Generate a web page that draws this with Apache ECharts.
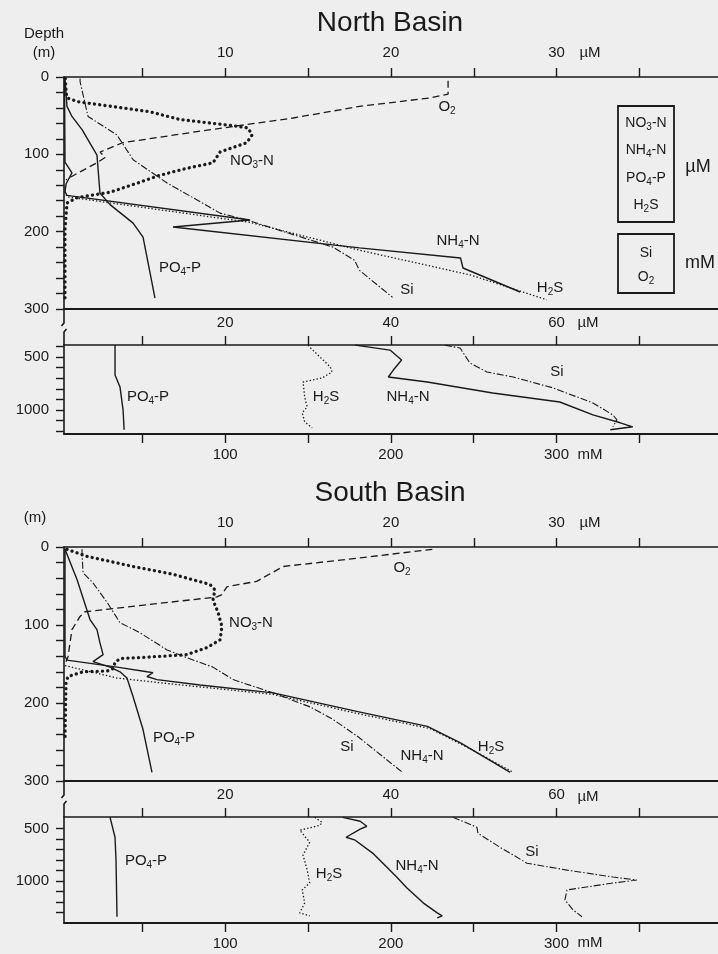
<!DOCTYPE html>
<html>
<head>
<meta charset="utf-8">
<script src="https://cdn.jsdelivr.net/npm/echarts@6/dist/echarts.min.js"></script>
<style>
  html, body { margin: 0; padding: 0; background: #eeeeee; }
  #chart { width: 718px; height: 954px; }
</style>
</head>
<body>
<div id="chart"></div>
<script>
// Vertical profiles: [concentration, depth (m)]
// North Basin, 0-300 m (µM scale of the top axis)
const northO2  = [[23.45,5],[23.45,22],[22.4,27],[18.1,38],[14.1,53],[8.5,70],[3.8,85],[2.45,97],[2.75,104],[2.26,111],[1.12,124],[0.39,133]];
const northNO3 = [[0.35,2],[0.4,20],[0.45,27],[1.12,32],[5.46,45],[7.27,55],[10.47,63],[11.38,66],[11.62,75],[11.3,85],[9.69,97],[9.26,111],[7.69,118],[6.07,127],[4.86,136],[3.05,149],[1.06,156],[0.45,163],[0.33,198],[0.33,288]];
const northNH4 = [[0.3,2],[0.33,110],[0.75,124],[0.4,138],[0.33,148],[0.45,153],[11.5,185],[6.85,194],[18.1,221],[24.2,234],[24.35,247],[27.8,278]];
const northPO4 = [[0.33,3],[0.45,38],[0.75,51],[1.36,68],[2.26,101],[2.44,150],[3.05,165],[4.44,189],[5.04,207],[5.46,253],[5.76,286]];
const northH2S = [[0.33,148],[0.45,155],[11.5,188],[18.1,224],[24.8,256],[29.4,288]];
const northSi  = [[1.24,2],[1.24,6],[1.72,51],[3.47,75],[4.44,107],[6.49,137],[9.69,176],[11.32,185],[16.5,220],[17.8,237],[18.1,250],[20.1,285]];

// North Basin, deep layer (µM, Si in mM)
const northDeepPO4 = [[6.7,387],[6.7,670],[7.3,783],[7.67,1000],[7.8,1188]];
const northDeepH2S = [[30.0,387],[30.2,406],[32.7,594],[32.9,641],[31.7,698],[29.4,736],[29.6,877],[29.9,972],[29.3,1028],[29.6,1113],[30.5,1170]];
const northDeepNH4 = [[35.7,387],[39.9,434],[41.3,528],[40.3,623],[39.7,689],[44.4,736],[52.3,840],[60.4,925],[64.4,1047],[67.7,1122],[69.2,1160],[66.5,1188]];
const northDeepSi  = [[232.7,387],[241.8,415],[247.8,557],[258,641],[273.8,689],[297.9,792],[322,934],[334,1047],[336.5,1094],[334,1160]];

// South Basin, 0-300 m
const southO2  = [[22.5,3],[18.1,14],[13.5,25],[11.9,44],[10.1,51],[9.8,61],[9.5,64],[1.54,83],[1.24,89],[0.75,106],[0.51,141],[0.39,147]];
const southNO3 = [[0.45,3],[1.66,12],[4.44,25],[6.85,35],[9.08,48],[9.38,55],[9.26,68],[9.57,84],[9.8,102],[9.69,119],[8.9,129],[7.69,138],[5.46,141],[3.65,143],[3.35,148],[3.23,156],[2.87,159],[1.42,160],[0.51,166],[0.39,174],[0.33,247]];
const southNH4 = [[0.33,2],[0.33,140],[0.45,145],[3.47,154],[5.28,160],[5.64,161],[5.28,166],[5.88,170],[8.48,177],[12.89,187],[18.0,211],[22.2,230],[24.2,251],[27.2,289]];
const southPO4 = [[0.33,3],[1.06,42],[1.84,93],[2.26,106],[2.44,123],[2.63,138],[2.02,147],[3.05,154],[3.65,160],[4.07,168],[4.44,192],[5.04,234],[5.58,289]];
const southH2S = [[0.33,152],[3.47,168],[6.49,175],[12.89,189],[18.1,214],[22.4,233],[24.8,259],[27.4,289]];
const southSi  = [[1.36,3],[1.36,10],[1.42,33],[2.02,46],[2.87,71],[3.65,97],[4.86,110],[6.49,132],[7.69,142],[9.26,154],[10.47,170],[12.89,187],[15.12,205],[16.5,221],[18.0,243],[20.7,289]];

// South Basin, deep layer
const southDeepPO4 = [[6.1,393],[6.7,583],[6.82,800],[6.94,1341]];
const southDeepH2S = [[30.8,393],[31.7,440],[31.45,469],[29.0,516],[30.2,630],[29.4,753],[29.9,895],[30.2,1018],[29.3,1085],[29.6,1208],[29.0,1304],[30.2,1332]];
const southDeepNH4 = [[34.2,393],[36.3,431],[37.1,478],[36.3,505],[34.6,583],[35.7,611],[37.8,734],[39.5,867],[40.7,961],[41.95,1066],[43.9,1208],[45.6,1304],[46.2,1332],[45.6,1351]];
const southDeepSi  = [[237.5,393],[252,488],[252.6,545],[265.9,678],[282.2,830],[306.3,896],[334.1,962],[348.6,991],[334.1,1019],[306.3,1085],[305.1,1180],[310,1275],[315.4,1341]];

// Axis ticks and labels
const shallowTicksUM  = [5,10,15,20,25,30,35];
const shallowLabelsUM = [10,20,30];
const deepTicksUM     = [10,20,30,40,50,60,70];
const deepLabelsUM    = [20,40,60];
const deepTicksMM     = [50,100,150,200,250,300,350];
const deepLabelsMM    = [100,200,300];
const shallowDepthLabels = [0,100,200,300];
const northDeepDepthTicks = [400,500,600,700,800,900,1000,1100,1200];
const southDeepDepthTicks = [500,600,700,800,900,1000,1100,1200,1300];
const deepDepthLabels = [500,1000];

const FONT = '"Liberation Sans", Arial, Helvetica, sans-serif';
const INK = '#1a1a1a';

const lineStyles = {
  O2:  { type: [7, 4], width: 1.3 },
  NO3: { type: [0.1, 5.2], width: 3.3, cap: 'round' },
  NH4: { type: 'solid', width: 1.4 },
  PO4: { type: 'solid', width: 1.4 },
  H2S: { type: [1.4, 2.1], width: 1.3 },
  Si:  { type: [7, 2, 1.5, 2], width: 1.1 }
};

function profile(name, data, key, xi, yi) {
  return {
    name: name, type: 'line', data: data,
    xAxisIndex: xi, yAxisIndex: yi,
    showSymbol: false, symbol: 'none', silent: true,
    lineStyle: Object.assign({ color: INK }, lineStyles[key]),
    animation: false
  };
}

const grids = [
  { left: 64, top: 77,  width: 654, height: 232 },
  { left: 64, top: 345, width: 654, height: 89 },
  { left: 64, top: 547, width: 654, height: 234 },
  { left: 64, top: 817, width: 654, height: 106 }
];

const plain = function (v) { return String(v); };

function topAxis(grid, min, max, ticks, labels, margin) {
  return {
    type: 'value', gridIndex: grid, position: 'top', min: min, max: max,
    splitLine: { show: false },
    axisLine: { show: true, onZero: false, lineStyle: { color: INK, width: 1.6 } },
    axisTick: { show: true, length: 9, customValues: ticks, lineStyle: { color: INK, width: 1.4 } },
    axisLabel: { show: true, customValues: labels, formatter: plain, margin: margin, color: INK, fontSize: 15, fontFamily: FONT }
  };
}
function bottomLine(grid, min, max) {
  return {
    type: 'value', gridIndex: grid, position: 'bottom', min: min, max: max,
    splitLine: { show: false },
    axisLine: { show: true, onZero: false, lineStyle: { color: INK, width: 2.2 } },
    axisTick: { show: false }, axisLabel: { show: false }
  };
}
function bottomAxis(grid, min, max, ticks, labels) {
  return {
    type: 'value', gridIndex: grid, position: 'bottom', min: min, max: max,
    splitLine: { show: false },
    axisLine: { show: true, onZero: false, lineStyle: { color: INK, width: 1.8 } },
    axisTick: { show: true, length: 9, customValues: ticks, lineStyle: { color: INK, width: 1.4 } },
    axisLabel: { show: true, customValues: labels, formatter: plain, margin: 13, color: INK, fontSize: 15, fontFamily: FONT }
  };
}
function depthAxis(grid, min, max, ticks, labels) {
  return {
    type: 'value', gridIndex: grid, inverse: true, min: min, max: max,
    splitLine: { show: false },
    axisLine: { show: true, onZero: false, lineStyle: { color: INK, width: 1.6 } },
    axisTick: { show: true, length: 8, customValues: ticks, lineStyle: { color: INK, width: 1.4 } },
    axisLabel: { show: true, customValues: labels, formatter: plain, margin: 15, color: INK, fontSize: 15, fontFamily: FONT }
  };
}

const uMin = 0.27, uMax = 39.74;       // shallow µM scale
const dMin = 0.54, dMax = 79.5;        // deep µM scale
const mMin = 2.7,  mMax = 397.5;       // deep mM scale
const shallowDepthTicks = [];
for (let d = 0; d <= 300; d += 20) shallowDepthTicks.push(d);

const xAxes = [
  topAxis(0, uMin, uMax, shallowTicksUM, shallowLabelsUM, 17),   // 0
  bottomLine(0, uMin, uMax),                                     // 1
  topAxis(1, dMin, dMax, deepTicksUM, deepLabelsUM, 15),         // 2
  bottomAxis(1, mMin, mMax, deepTicksMM, deepLabelsMM),          // 3
  topAxis(2, uMin, uMax, shallowTicksUM, shallowLabelsUM, 17),   // 4
  bottomLine(2, uMin, uMax),                                     // 5
  topAxis(3, dMin, dMax, deepTicksUM, deepLabelsUM, 15),         // 6
  bottomAxis(3, mMin, mMax, deepTicksMM, deepLabelsMM)           // 7
];
const yAxes = [
  depthAxis(0, 0, 300, shallowDepthTicks, shallowDepthLabels),
  depthAxis(1, 386, 1228, northDeepDepthTicks, deepDepthLabels),
  depthAxis(2, 0, 300, shallowDepthTicks, shallowDepthLabels),
  depthAxis(3, 390, 1400, southDeepDepthTicks, deepDepthLabels)
];

const series = [
  profile('O2', northO2, 'O2', 0, 0),
  profile('Si', northSi, 'Si', 0, 0),
  profile('PO4-P', northPO4, 'PO4', 0, 0),
  profile('NH4-N', northNH4, 'NH4', 0, 0),
  profile('H2S', northH2S, 'H2S', 0, 0),
  profile('NO3-N', northNO3, 'NO3', 0, 0),

  profile('PO4-P', northDeepPO4, 'PO4', 2, 1),
  profile('H2S', northDeepH2S, 'H2S', 2, 1),
  profile('NH4-N', northDeepNH4, 'NH4', 2, 1),
  profile('Si', northDeepSi, 'Si', 3, 1),

  profile('O2', southO2, 'O2', 4, 2),
  profile('Si', southSi, 'Si', 4, 2),
  profile('PO4-P', southPO4, 'PO4', 4, 2),
  profile('NH4-N', southNH4, 'NH4', 4, 2),
  profile('H2S', southH2S, 'H2S', 4, 2),
  profile('NO3-N', southNO3, 'NO3', 4, 2),

  profile('PO4-P', southDeepPO4, 'PO4', 6, 3),
  profile('H2S', southDeepH2S, 'H2S', 6, 3),
  profile('NH4-N', southDeepNH4, 'NH4', 6, 3),
  profile('Si', southDeepSi, 'Si', 7, 3)
];

// Text with chemical subscripts
const subRich = {
  s: { fontSize: 10, fontFamily: FONT, fill: INK, verticalAlign: 'bottom', padding: [8, 0, 0, 0] }
};
function label(x, y, text, size) {
  return {
    type: 'text', x: x, y: y, silent: true,
    style: {
      text: text, fill: INK, fontSize: size || 15, fontFamily: FONT,
      align: 'center', verticalAlign: 'middle', rich: subRich
    }
  };
}
function rule(points, width) {
  return { type: 'polyline', silent: true, shape: { points: points },
           style: { stroke: INK, lineWidth: width || 1.6, fill: null } };
}

const graphics = [
  label(390, 23, 'North Basin', 28),
  label(390, 493, 'South Basin', 28),
  label(44, 34, 'Depth', 15),
  label(44, 53, '(m)', 15),
  label(35, 518, '(m)', 15),

  label(590, 53, 'µM', 15),
  label(588, 323, 'µM', 15),
  label(590, 455, 'mM', 15),
  label(590, 523, 'µM', 15),
  label(588, 797, 'µM', 15),
  label(590, 943, 'mM', 15),

  // legend boxes
  { type: 'rect', silent: true, shape: { x: 618, y: 106, width: 56, height: 116 },
    style: { stroke: INK, lineWidth: 1.8, fill: null } },
  { type: 'rect', silent: true, shape: { x: 618, y: 234, width: 56, height: 59 },
    style: { stroke: INK, lineWidth: 1.8, fill: null } },
  label(646, 123, 'NO{s|3}-N', 14),
  label(646, 150, 'NH{s|4}-N', 14),
  label(646, 178, 'PO{s|4}-P', 14),
  label(646, 205, 'H{s|2}S', 14),
  label(646, 253, 'Si', 14),
  label(646, 277, 'O{s|2}', 14),
  label(698, 167, 'µM', 18),
  label(700, 263, 'mM', 18),

  // curve names, North Basin
  label(447, 107, 'O{s|2}'),
  label(252, 161, 'NO{s|3}-N'),
  label(180, 268, 'PO{s|4}-P'),
  label(458, 241, 'NH{s|4}-N'),
  label(407, 290, 'Si'),
  label(550, 288, 'H{s|2}S'),
  label(148, 397, 'PO{s|4}-P'),
  label(326, 397, 'H{s|2}S'),
  label(408, 397, 'NH{s|4}-N'),
  label(557, 372, 'Si'),

  // curve names, South Basin
  label(402, 568, 'O{s|2}'),
  label(251, 623, 'NO{s|3}-N'),
  label(174, 738, 'PO{s|4}-P'),
  label(347, 747, 'Si'),
  label(422, 756, 'NH{s|4}-N'),
  label(491, 747, 'H{s|2}S'),
  label(146, 861, 'PO{s|4}-P'),
  label(329, 874, 'H{s|2}S'),
  label(417, 866, 'NH{s|4}-N'),
  label(532, 852, 'Si'),

  // depth-axis breaks between the shallow and deep panels
  rule([[64, 309], [64, 323], [61.5, 326]]),
  rule([[66.5, 329], [64, 332], [64, 345]]),
  rule([[64, 781], [64, 795], [61.5, 798]]),
  rule([[66.5, 801], [64, 804], [64, 817]])
];

const chart = echarts.init(document.getElementById('chart'), null, { renderer: 'canvas' });
chart.setOption({
  backgroundColor: '#eeeeee',
  animation: false,
  grid: grids,
  xAxis: xAxes,
  yAxis: yAxes,
  series: series,
  graphic: graphics
});
</script>
</body>
</html>
